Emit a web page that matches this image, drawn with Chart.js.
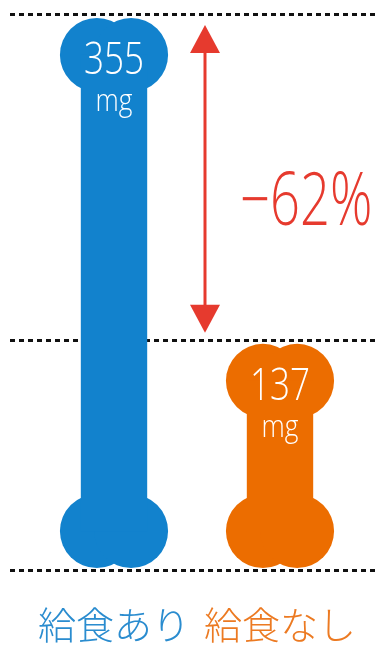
<!DOCTYPE html>
<html>
<head>
<meta charset="utf-8">
<script src="https://cdn.jsdelivr.net/npm/chart.js@4.4.0/dist/chart.umd.min.js"></script>
<style>
  html, body { margin: 0; padding: 0; background: #fff; }
  #wrap { width: 376px; height: 648px; position: relative; }
</style>
</head>
<body>
<div id="wrap"><canvas id="boneChart"></canvas></div>
<script>
const categories = ['給食あり', '給食なし'];
const values = [355, 137];
const unitLabel = 'mg';
const changeLabel = '−62%';
const guideValues = [355, 137];
const axisMin = -17;

const barColors = ['#1282cd', '#ec6d00'];
const labelColors = ['#2a8ccf', '#ec7a22'];
const red = '#e63a2e';

// text drawn a little condensed, like the original lettering
function drawText(ctx, text, x, y, size, color, sx, align) {
  ctx.save();
  ctx.translate(x, y);
  ctx.scale(sx, 1);
  ctx.font = `300 ${size}px "Open Sans", sans-serif`;
  ctx.fillStyle = color;
  ctx.textAlign = align || 'center';
  ctx.textBaseline = 'alphabetic';
  ctx.fillText(text, 0, 0);
  ctx.restore();
}

function drawBone(ctx, cx, top, bottom, w, color) {
  const r = w * 0.345;
  const d = w * 0.16;
  const half = w * 0.31;
  const cyTop = top + 4 + r;
  const cyBot = bottom - 2 - r;
  ctx.fillStyle = color;
  [[cx - d, cyTop], [cx + d, cyTop], [cx - d, cyBot], [cx + d, cyBot]].forEach(([x, y]) => {
    ctx.beginPath();
    ctx.arc(x, y, r, 0, Math.PI * 2);
    ctx.fill();
  });
  ctx.fillRect(cx - half, cyTop, half * 2, cyBot - cyTop);
}

const bonePlugin = {
  id: 'bones',
  beforeDatasetsDraw(chart) {
    const ctx = chart.ctx;
    const y = chart.scales.y;
    ctx.save();
    ctx.strokeStyle = '#111';
    ctx.lineWidth = 3;
    ctx.setLineDash([5, 4]);
    [...guideValues, axisMin].forEach(v => {
      const py = Math.round(y.getPixelForValue(v)) + 0.5;
      ctx.beginPath();
      ctx.moveTo(10, py);
      ctx.lineTo(chart.width, py);
      ctx.stroke();
    });
    ctx.restore();
  },
  afterDatasetsDraw(chart) {
    const ctx = chart.ctx;
    const bars = chart.getDatasetMeta(0).data;
    ctx.save();
    bars.forEach((bar, i) => {
      drawBone(ctx, bar.x, bar.y, bar.base, bar.width, barColors[i]);
      drawText(ctx, String(values[i]), bar.x, bar.y + 60, 45, '#fff', 0.78);
      drawText(ctx, unitLabel, bar.x, bar.y + 97, 31, '#fff', 0.85);
    });

    // double arrow between the two values
    const [b0, b1] = bars;
    const ax = (b0.x + b1.x) / 2 + 8;
    const yTop = b0.y + 11;
    const yBot = b1.y - 7;
    const head = 28, hw = 15;
    ctx.strokeStyle = red;
    ctx.fillStyle = red;
    ctx.lineWidth = 3;
    ctx.beginPath();
    ctx.moveTo(ax, yTop + head - 2);
    ctx.lineTo(ax, yBot - head + 2);
    ctx.stroke();
    ctx.beginPath();
    ctx.moveTo(ax, yTop);
    ctx.lineTo(ax - hw, yTop + head);
    ctx.lineTo(ax + hw, yTop + head);
    ctx.closePath();
    ctx.fill();
    ctx.beginPath();
    ctx.moveTo(ax, yBot);
    ctx.lineTo(ax - hw, yBot - head);
    ctx.lineTo(ax + hw, yBot - head);
    ctx.closePath();
    ctx.fill();

    drawText(ctx, changeLabel, ax + 35, (yTop + yBot) / 2 + 46, 74, red, 0.71, 'left');
    ctx.restore();
  }
};

new Chart(document.getElementById('boneChart'), {
  type: 'bar',
  data: {
    labels: categories,
    datasets: [{
      data: values,
      base: axisMin,
      backgroundColor: 'rgba(0,0,0,0)',
      barPercentage: 1,
      categoryPercentage: 0.645
    }]
  },
  options: {
    responsive: true,
    maintainAspectRatio: false,
    animation: false,
    events: [],
    layout: { padding: { top: 14, left: 31, right: 13, bottom: 0 } },
    plugins: { legend: { display: false }, tooltip: { enabled: false } },
    scales: {
      x: {
        grid: { display: false, drawTicks: false },
        border: { display: false },
        ticks: {
          padding: 32,
          maxRotation: 0,
          color: ctx => labelColors[ctx.index],
          font: { family: '"Noto Sans CJK JP", sans-serif', size: 38, weight: 300 }
        },
        afterFit(scale) {
          scale.height = 78;
          scale.paddingLeft = 0;
          scale.paddingRight = 0;
        }
      },
      y: {
        display: false,
        min: axisMin,
        max: 355
      }
    }
  },
  plugins: [bonePlugin]
});
</script>
</body>
</html>
